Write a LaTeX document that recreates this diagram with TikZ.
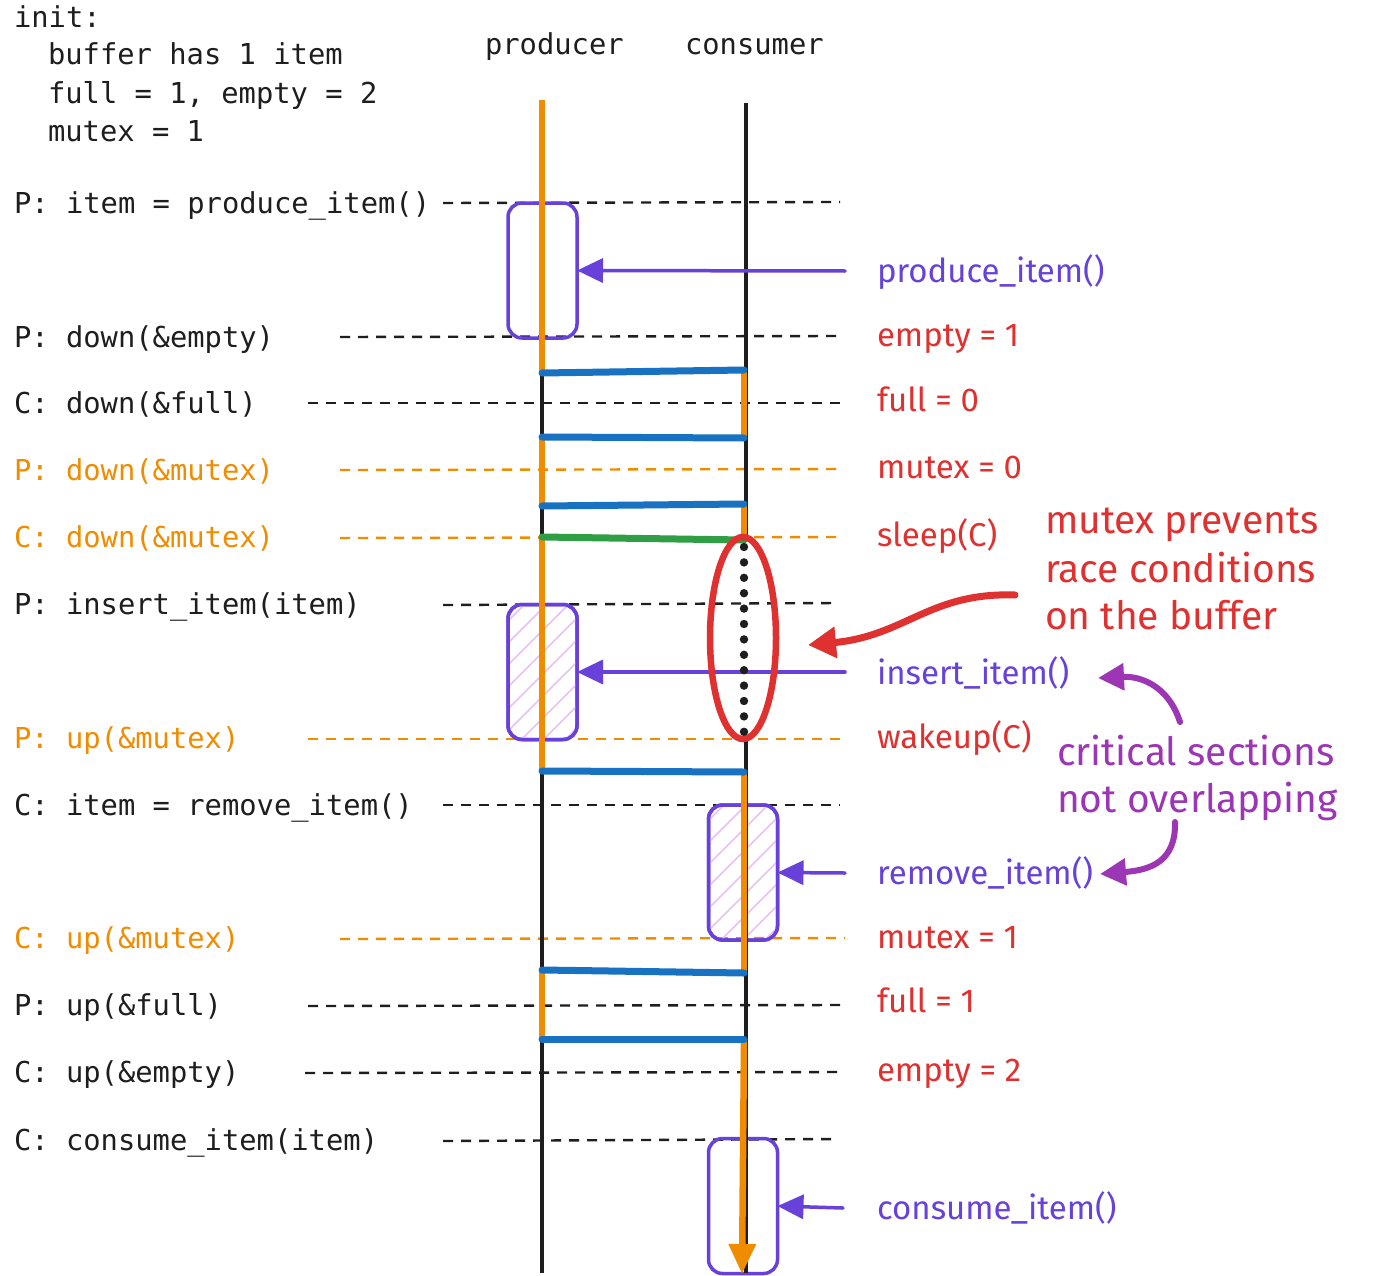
\documentclass[tikz,border=0pt]{standalone}
\usepackage{fontspec}
\setmonofont{DejaVu Sans Mono}
\newfontfamily\handfont{Fira Sans}
\usetikzlibrary{arrows.meta,shapes.geometric}
\definecolor{tlorange}{HTML}{F08C00}
\definecolor{tlblue}{HTML}{1971C2}
\definecolor{tlgreen}{HTML}{2F9E44}
\definecolor{tlred}{HTML}{E03131}
\definecolor{tlviolet}{HTML}{6741D9}
\definecolor{tlpurple}{HTML}{9C36B5}
\definecolor{tlhatch}{HTML}{EEBEFA}
\definecolor{tlink}{HTML}{1E1E1E}
\begin{document}
\begin{tikzpicture}[x=1pt,y=-1pt,
  every node/.style={inner sep=0pt,outer sep=0pt},
  code/.style={font=\fontsize{28.8}{32}\selectfont\ttfamily,anchor=base west,text=tlink},
  hand/.style={font=\fontsize{33}{36}\selectfont\handfont,anchor=base west},
  note/.style={font=\fontsize{39}{44}\selectfont\handfont,anchor=base west},
  guide/.style={line width=2.4pt,dash pattern=on 10pt off 8pt,tlink},
  lockguide/.style={guide,tlorange},
  life/.style={line width=4.8pt,tlink},
  run/.style={line width=6.5pt,tlorange},
  switch/.style={line width=7pt,tlblue,line cap=round},
  sect/.style={draw=tlviolet,line width=3.5pt,rounded corners=14pt,minimum width=69pt,minimum height=135pt},
  call/.style={tlviolet,line width=3.5pt,line cap=round,-{Triangle[length=26pt,width=24pt]}},
  hatchline/.style={tlhatch,line width=1.6pt},
  pointer/.style={line width=7pt,line cap=round,-{Triangle[length=28pt,width=30pt]}}]
\useasboundingbox (0,0) rectangle (1375,1276);
\fill[white] (0,0) rectangle (1375,1276);

% initial state
\node[code] (init) at (14,28) {init:};
\node[code] (buf) at (48,65) {buffer has 1 item};
\node[code] (sems) at (48,104) {full = 1, empty = 2};
\node[code] (mtx) at (48,142) {mutex = 1};

% column headings
\node[code] (hp) at (485,55) {producer};
\node[code] (hc) at (685,55) {consumer};

% steps on the left, each with its guide line
\node[code] (l1) at (14,213) {P: item = produce\_item()};
\node[code] (l2) at (14,347) {P: down(\&empty)};
\node[code] (l3) at (14,413) {C: down(\&full)};
\node[code,text=tlorange] (l4) at (14,480) {P: down(\&mutex)};
\node[code,text=tlorange] (l5) at (14,547) {C: down(\&mutex)};
\node[code] (l6) at (14,614) {P: insert\_item(item)};
\node[code,text=tlorange] (l7) at (14,748) {P: up(\&mutex)};
\node[code] (l8) at (14,815) {C: item = remove\_item()};
\node[code,text=tlorange] (l9) at (14,948) {C: up(\&mutex)};
\node[code] (l10) at (14,1015) {P: up(\&full)};
\node[code] (l11) at (14,1082) {C: up(\&empty)};
\node[code] (l12) at (14,1150) {C: consume\_item(item)};

\draw[guide] (443,203) -- (840,202);
\draw[guide] (340,337) -- (840,336);
\draw[guide] (308,403) -- (842,403);
\draw[lockguide] (340,470) -- (840,469);
\draw[lockguide] (340,538) -- (840,537);
\draw[guide] (443,605) -- (838,603);
\draw[lockguide] (308,739) -- (845,739);
\draw[guide] (443,805) -- (840,805);
\draw[lockguide] (340,939) -- (845,938);
\draw[guide] (308,1006) -- (840,1005);
\draw[guide] (305,1073) -- (840,1072);
\draw[guide] (443,1141) -- (838,1139);

% critical sections (hatched ones touch the buffer)
\node[sect] (b1) at (542.5,270.5) {};
\node[sect] (b2) at (542.5,672) {};
\node[sect] (b3) at (743,872.5) {};
\node[sect] (b4) at (743,1206) {};
\begin{scope}
  \clip[rounded corners=14pt] (b2.south west) rectangle (b2.north east);
  \foreach \x in {340,362,...,600} \draw[hatchline] (\x,745) -- ++(150,-150);
\end{scope}
\begin{scope}
  \clip[rounded corners=14pt] (b3.south west) rectangle (b3.north east);
  \foreach \x in {540,562,...,800} \draw[hatchline] (\x,945) -- ++(150,-150);
\end{scope}
\node[sect] at (b2) {};
\node[sect] at (b3) {};

% lifelines (the consumer's is broken while it sleeps)
\coordinate (pTop) at (542,100);
\coordinate (pBot) at (542,1273);
\coordinate (cTop) at (746,103);
\coordinate (cSleep) at (746,541);
\coordinate (cWake) at (746,736);
\coordinate (cBot) at (746,1273);
\coordinate (cEnd) at (742,1274);
\draw[life] (pTop) -- (pBot);
\draw[life] (cTop) -- (cSleep);
\draw[life] (cWake) -- (cBot);

% context switch points
\foreach \n/\yp/\yc in {1/373/370,2/437/438,3/506/504,4/537/540,5/771/772,6/970/973,7/1039/1039}{
  \coordinate (p\n) at (542,\yp);
  \coordinate (c\n) at (744,\yc);
}

% running thread
\draw[run] (pTop) -- (p1);
\draw[run] (p2) -- (p3);
\draw[run] (p4) -- (p5);
\draw[run] (p6) -- (p7);
\draw[run] (c1) -- (c2);
\draw[run] (c3) -- (c4);
\draw[run] (c5) -- (c6);
\draw[run,-{Triangle[length=30pt,width=26pt]}] (c7) -- (cEnd);

% context switches
\draw[switch] (p1) -- (c1);
\draw[switch] (p2) -- (c2);
\draw[switch] (p3) -- (c3);
\draw[switch,tlgreen] (p4) -- (c4);
\draw[switch] (p5) -- (c5);
\draw[switch] (p6) -- (c6);
\draw[switch] (p7) -- (c7);

% effects on the right
\node[hand,text=tlviolet] (r1) at (877,282) {produce\_item()};
\node[hand,text=tlred] (r2) at (877,346) {empty = 1};
\node[hand,text=tlred] (r3) at (877,411) {full = 0};
\node[hand,text=tlred] (r4) at (877,478) {mutex = 0};
\node[hand,text=tlred] (r5) at (877,546) {sleep(C)};
\node[hand,text=tlviolet] (r6) at (877,684) {insert\_item()};
\node[hand,text=tlred] (r7) at (877,748) {wakeup(C)};
\node[hand,text=tlviolet] (r8) at (877,884) {remove\_item()};
\node[hand,text=tlred] (r9) at (877,948) {mutex = 1};
\node[hand,text=tlred] (r10) at (877,1012) {full = 1};
\node[hand,text=tlred] (r11) at (877,1081) {empty = 2};
\node[hand,text=tlviolet] (r12) at (877,1219) {consume\_item()};

\coordinate (a1) at (845,271);
\coordinate (a2) at (845,672);
\coordinate (a3) at (845,873);
\coordinate (a4) at (843,1208);
\draw[call] (a1) -- (b1.east);
\draw[call] (a2) -- (b2.east);
\draw[call] (a3) -- (b3.east);
\draw[call] (a4) -- (b4.east);

% consumer asleep on the mutex
\node[ellipse,draw=tlred,line width=6.5pt,minimum width=66pt,minimum height=202pt] (wait) at (743,638) {};
\foreach \k in {0,...,12} \fill[tlink] (744,547+15.4*\k) circle (4.2pt);

% notes
\node[note,text=tlred] (n1) at (1045,533) {mutex prevents};
\node[note,text=tlred] (n2) at (1045,582) {race conditions};
\node[note,text=tlred] (n3) at (1045,629) {on the buffer};
\node[note,text=tlpurple] (n4) at (1057,765) {critical sections};
\node[note,text=tlpurple] (n5) at (1057,812) {not overlapping};

\coordinate (rStart) at (1015,595);
\draw[pointer,tlred] (rStart) .. controls (930,592) and (905,636) .. ([shift={(32,7)}]wait.east);
\coordinate (q1) at (1180,722);
\coordinate (q2) at (1175,822);
\draw[pointer,tlpurple,line width=6pt,-{Triangle[length=26pt,width=26pt]}] (q1) .. controls (1168,685) and (1140,676) .. (1098,678);
\draw[pointer,tlpurple,line width=6pt,-{Triangle[length=26pt,width=26pt]}] (q2) .. controls (1176,862) and (1150,870) .. (1100,874);
\end{tikzpicture}
\end{document}
